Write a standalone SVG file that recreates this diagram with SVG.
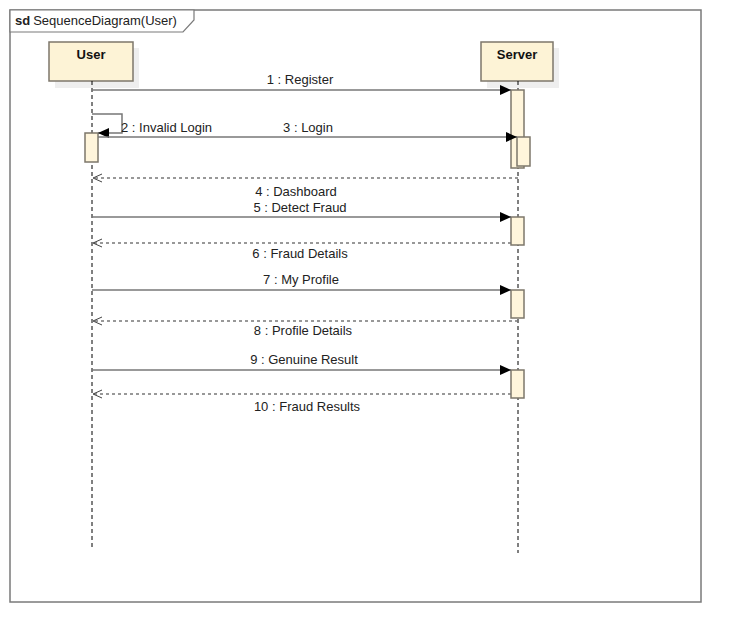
<svg xmlns="http://www.w3.org/2000/svg" width="741" height="642" viewBox="0 0 741 642">
  <style>
    text { font-family: "Liberation Sans", Arial, sans-serif; font-size: 13px; fill: #222; }
    .lbl { text-anchor: middle; }
    .head { font-weight: bold; font-size: 13px; text-anchor: middle; fill: #111; }
    .frame { fill: #fff; stroke: #7a7a7a; stroke-width: 1.5; }
    .box { fill: #fdf3d6; stroke: #7d776b; stroke-width: 1.5; }
    .shadow { fill: #eeeeee; }
    .life { stroke: #000; stroke-width: 1; stroke-dasharray: 4 3; fill: none; }
    .act { fill: #fff5db; stroke: #7d776b; stroke-width: 1.5; }
    .msg { stroke: #777; stroke-width: 1.5; fill: none; }
    .ret { stroke: #777; stroke-width: 1.5; stroke-dasharray: 3 3; fill: none; }
  </style>
  <defs>
    <marker id="filled" markerWidth="12" markerHeight="10" refX="11" refY="5" orient="auto" markerUnits="userSpaceOnUse">
      <path d="M0,0 L11,5 L0,10 Z" fill="#000"/>
    </marker>
    <marker id="open" markerWidth="12" markerHeight="10" refX="10" refY="5" orient="auto" markerUnits="userSpaceOnUse">
      <path d="M1,1 L10,5 L1,9" fill="none" stroke="#444" stroke-width="1"/>
    </marker>
  </defs>

  <!-- interaction frame -->
  <g id="frame">
    <rect x="10" y="10" width="691" height="592" class="frame"/>
    <path d="M10,10 H194 V20 L183,32 H10 Z" fill="#fff" stroke="#7a7a7a" stroke-width="1.2"/>
    <text x="15" y="25"><tspan font-weight="bold">sd</tspan><tspan dx="3">SequenceDiagram(User)</tspan></text>
  </g>

  <!-- lifeline: User -->
  <g id="user">
    <rect x="55" y="48" width="84" height="40" class="shadow"/>
    <rect x="49" y="42" width="84" height="39" class="box"/>
    <text x="91" y="59" class="head">User</text>
    <line x1="92" y1="81" x2="92" y2="547" class="life"/>
    <rect x="85" y="133" width="13" height="29" class="act"/>
  </g>

  <!-- lifeline: Server -->
  <g id="server">
    <rect x="487" y="48" width="72" height="40" class="shadow"/>
    <rect x="481" y="42" width="72" height="39" class="box"/>
    <text x="517" y="59" class="head">Server</text>
    <line x1="518" y1="81" x2="518" y2="553" class="life"/>
    <rect x="511" y="90" width="13" height="78" class="act"/>
    <rect x="517" y="137" width="13" height="29" class="act"/>
    <rect x="511" y="217" width="13" height="28" class="act"/>
    <rect x="511" y="290" width="13" height="28" class="act"/>
    <rect x="511" y="370" width="13" height="28" class="act"/>
  </g>

  <!-- messages -->
  <g id="connectors">
    <line x1="92" y1="90" x2="511" y2="90" class="msg" marker-end="url(#filled)"/>
    <text x="300" y="84" class="lbl">1 : Register</text>

    <path d="M92,114 H122 V133 H98" class="msg" marker-end="url(#filled)"/>
    <text x="121" y="132">2 : Invalid Login</text>

    <line x1="98" y1="137" x2="517" y2="137" class="msg" marker-end="url(#filled)"/>
    <text x="308" y="132" class="lbl">3 : Login</text>

    <line x1="518" y1="178" x2="93" y2="178" class="ret" marker-end="url(#open)"/>
    <text x="296" y="196" class="lbl">4 : Dashboard</text>

    <line x1="92" y1="217" x2="511" y2="217" class="msg" marker-end="url(#filled)"/>
    <text x="300" y="212" class="lbl">5 : Detect Fraud</text>

    <line x1="511" y1="243" x2="93" y2="243" class="ret" marker-end="url(#open)"/>
    <text x="300" y="258" class="lbl">6 : Fraud Details</text>

    <line x1="92" y1="290" x2="511" y2="290" class="msg" marker-end="url(#filled)"/>
    <text x="301" y="284" class="lbl">7 : My Profile</text>

    <line x1="518" y1="321" x2="93" y2="321" class="ret" marker-end="url(#open)"/>
    <text x="303" y="335" class="lbl">8 : Profile Details</text>

    <line x1="92" y1="370" x2="511" y2="370" class="msg" marker-end="url(#filled)"/>
    <text x="304" y="364" class="lbl">9 : Genuine Result</text>

    <line x1="511" y1="394" x2="93" y2="394" class="ret" marker-end="url(#open)"/>
    <text x="307" y="411" class="lbl">10 : Fraud Results</text>
  </g>
</svg>
